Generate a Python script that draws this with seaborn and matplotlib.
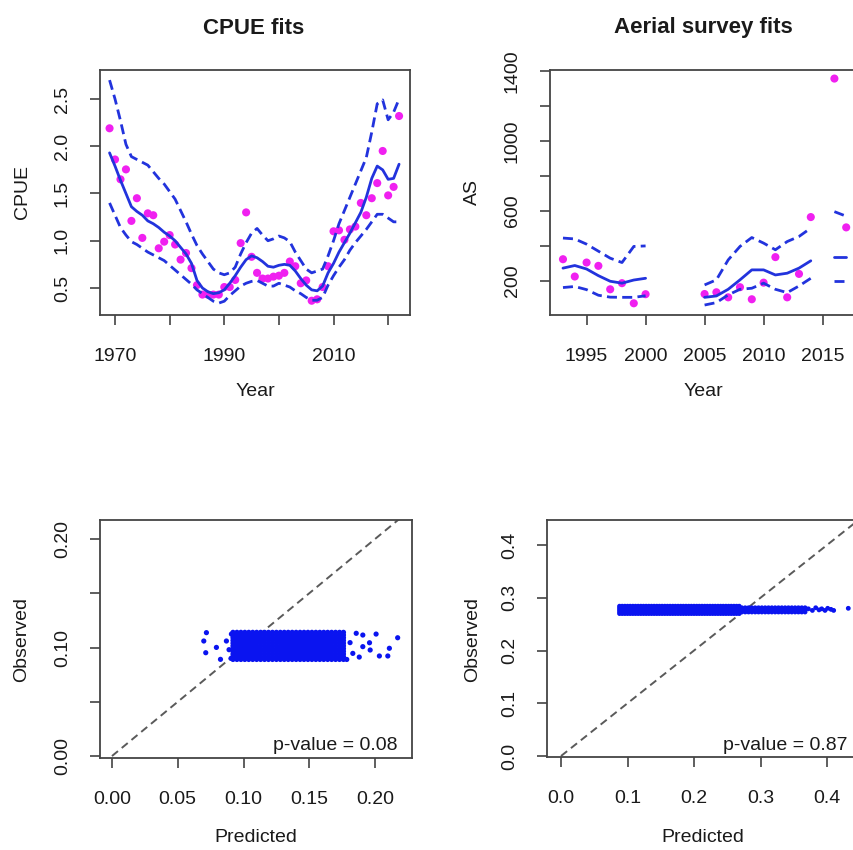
import itertools
import numpy as np
import pandas as pd
import matplotlib
matplotlib.use("Agg")
import matplotlib.pyplot as plt
import seaborn as sns

W, H, DPI = 854, 850, 100

# ---------------- data ----------------
cpue_years = list(range(1969, 2023))
cpue_obs = [2.19, 1.86, 1.65, 1.755, 1.21, 1.45, 1.03, 1.29, 1.27, 0.92,
            0.99, 1.06, 0.96, 0.80, 0.87, 0.71, 0.53, 0.43, 0.43, 0.43,
            0.43, 0.51, 0.51, 0.585, 0.975, 1.30, 0.83, 0.66, 0.60, 0.60,
            0.62, 0.63, 0.66, 0.78, 0.73, 0.55, 0.58, 0.365, 0.38, 0.51,
            0.73, 1.10, 1.11, 1.01, 1.12, 1.15, 1.40, 1.27, 1.45, 1.61,
            1.95, 1.48, 1.57, 2.32]
cpue_fit = [1.93, 1.79, 1.64, 1.50, 1.36, 1.31, 1.27, 1.21, 1.18, 1.14,
            1.09, 1.05, 1.00, 0.93, 0.86, 0.76, 0.58, 0.50, 0.46, 0.44,
            0.45, 0.48, 0.55, 0.63, 0.72, 0.80, 0.84, 0.82, 0.78, 0.73,
            0.72, 0.74, 0.75, 0.74, 0.68, 0.60, 0.53, 0.48, 0.47, 0.52,
            0.66, 0.76, 0.88, 0.98, 1.08, 1.19, 1.30, 1.46, 1.66, 1.79,
            1.75, 1.65, 1.66, 1.81]
cpue_upper = [2.70, 2.50, 2.27, 2.02, 1.89, 1.86, 1.83, 1.80, 1.73, 1.66,
              1.60, 1.52, 1.44, 1.32, 1.20, 1.07, 0.95, 0.86, 0.78, 0.70,
              0.66, 0.64, 0.66, 0.72, 0.86, 0.98, 1.08, 1.13, 1.06, 1.00,
              1.02, 1.05, 1.03, 0.99, 0.88, 0.79, 0.70, 0.66, 0.68, 0.70,
              0.84, 1.00, 1.18, 1.32, 1.46, 1.60, 1.74, 1.88, 2.15, 2.45,
              2.49, 2.28, 2.36, 2.50]
cpue_lower = [1.40, 1.27, 1.14, 1.06, 0.99, 0.96, 0.92, 0.88, 0.85, 0.82,
              0.79, 0.74, 0.69, 0.64, 0.59, 0.54, 0.48, 0.44, 0.40, 0.36,
              0.34, 0.36, 0.42, 0.47, 0.52, 0.55, 0.57, 0.58, 0.55, 0.52,
              0.52, 0.55, 0.53, 0.51, 0.47, 0.44, 0.40, 0.37, 0.37, 0.40,
              0.53, 0.63, 0.72, 0.80, 0.90, 0.98, 1.05, 1.12, 1.20, 1.28,
              1.28, 1.24, 1.20, 1.20]

as_years = [1993, 1994, 1995, 1996, 1997, 1998, 1999, 2000,
            2005, 2006, 2007, 2008, 2009, 2010, 2011, 2012, 2013, 2014,
            2016, 2017]
as_segment = [1, 1, 1, 1, 1, 1, 1, 1,
              2, 2, 2, 2, 2, 2, 2, 2, 2, 2,
              3, 3]
as_obs = [324, 225, 305, 286, 152, 187, 72, 124,
          125, 135, 106, 164, 95, 190, 336, 106, 240, 565,
          1357, 506]
as_fit = [273, 288, 268, 230, 198, 187, 205, 215,
          106, 114, 152, 206, 263, 263, 234, 244, 273, 315,
          339, 339]
as_upper = [445, 440, 410, 370, 330, 305, 397, 400,
            177, 206, 320, 397, 448, 416, 378, 425, 454, 502,
            596, 570]
as_lower = [162, 168, 150, 118, 107, 106, 106, 115,
            62, 76, 120, 152, 158, 187, 152, 133, 171, 215,
            202, 202]

# posterior predictive check, CPUE: dense core extents + scattered edge points
ppc1_core_x = [0.092, 0.095, 0.098, 0.101, 0.104, 0.107, 0.110, 0.113, 0.116,
               0.119, 0.122, 0.125, 0.128, 0.131, 0.134, 0.137, 0.140, 0.143,
               0.146, 0.149, 0.152, 0.155, 0.158, 0.161, 0.164, 0.167, 0.170,
               0.173, 0.176]
ppc1_core_y = [0.089, 0.0915, 0.094, 0.0965, 0.099, 0.1015, 0.104, 0.1065,
               0.109, 0.1115, 0.114]
ppc1_edge_x = [0.0718, 0.0698, 0.0713, 0.0794, 0.0825, 0.0908, 0.1857, 0.1907,
               0.1958, 0.2008, 0.1963, 0.2033, 0.2097, 0.2109, 0.2172, 0.1831,
               0.1880, 0.1810, 0.1785, 0.1907, 0.0890, 0.0905, 0.0932, 0.0870]
ppc1_edge_y = [0.1137, 0.1060, 0.0952, 0.1001, 0.0891, 0.1124, 0.1131, 0.1115,
               0.1044, 0.1124, 0.0977, 0.0922, 0.0922, 0.0993, 0.1090, 0.0946,
               0.0912, 0.1045, 0.0890, 0.1008, 0.0980, 0.0900, 0.1032, 0.1060]

# posterior predictive check, aerial survey
ppc2_core_x = [0.088, 0.092, 0.096, 0.100, 0.104, 0.108, 0.112, 0.116, 0.120,
               0.124, 0.128, 0.132, 0.136, 0.140, 0.144, 0.148, 0.152, 0.156,
               0.160, 0.164, 0.168, 0.172, 0.176, 0.180, 0.184, 0.188, 0.192,
               0.196, 0.200, 0.204, 0.208, 0.212, 0.216, 0.220, 0.224, 0.228,
               0.232, 0.236, 0.240, 0.244, 0.248, 0.252, 0.256, 0.260, 0.264,
               0.268]
ppc2_core_y = [0.270, 0.2735, 0.277, 0.2805, 0.284]
ppc2_tail_x = [0.272, 0.277, 0.282, 0.287, 0.292, 0.297, 0.302, 0.307, 0.312,
               0.317, 0.322, 0.327, 0.332, 0.337, 0.342, 0.347, 0.352, 0.357,
               0.362, 0.367]
ppc2_tail_y = [0.273, 0.277, 0.281]
ppc2_edge_x = [0.372, 0.378, 0.383, 0.388, 0.392, 0.397, 0.401, 0.406, 0.410, 0.432]
ppc2_edge_y = [0.279, 0.276, 0.281, 0.277, 0.279, 0.276, 0.280, 0.278, 0.276, 0.280]

one_to_one = [0.0, 0.6]
pvalues = ["p-value = 0.08", "p-value = 0.87"]

# ---------------- style ----------------
sns.set_style("ticks")
FONT = ['Liberation Sans Narrow', 'Liberation Sans', 'DejaVu Sans']
plt.rcParams['font.family'] = FONT
TXT = '#1a1a1a'
MAG = '#f020f0'
BLUE = '#2233dd'
PTBLUE = '#0a14f0'
TICK_FS = 14
LAB_FS = 14
TITLE_FS = 16

fig = plt.figure(figsize=(W / DPI, H / DPI), dpi=DPI)


def axes_px(l, t, r, b):
    return fig.add_axes([l / W, 1 - b / H, (r - l) / W, (b - t) / H])


def style_axes(ax, xt, xl, yt, yl):
    ax.set_xticks(xt)
    ax.set_xticklabels(xl)
    ax.set_yticks(yt)
    ax.set_yticklabels(yl, rotation=90, va='center')
    ax.tick_params(axis='both', direction='out', length=7, width=1.1,
                   color='#333333', labelsize=TICK_FS, labelcolor=TXT)
    ax.tick_params(axis='x', pad=17)
    ax.tick_params(axis='y', pad=14)
    for s in ax.spines.values():
        s.set_visible(True)
        s.set_color('#444444')
        s.set_linewidth(1.3)
    ax.set_xlabel('')
    ax.set_ylabel('')


def ftext(x, y, s, **kw):
    kw.setdefault('color', TXT)
    fig.text(x / W, 1 - y / H, s, **kw)


DASH = (0, (3.6, 1.9))
LW = 2.0

# ---- CPUE fits ----
ax1 = axes_px(100, 70, 410, 315)
df_c = pd.DataFrame({'Year': cpue_years, 'obs': cpue_obs, 'fit': cpue_fit,
                     'lo': cpue_lower, 'hi': cpue_upper})
sns.scatterplot(data=df_c, x='Year', y='obs', color=MAG, s=34,
                edgecolor='none', ax=ax1, zorder=2)
sns.lineplot(data=df_c, x='Year', y='fit', color=BLUE, lw=LW,
             estimator=None, ax=ax1, zorder=3)
for col in ['lo', 'hi']:
    sns.lineplot(data=df_c, x='Year', y=col, color=BLUE, lw=LW,
                 linestyle=DASH, estimator=None, ax=ax1, zorder=3)
ax1.set_xlim(1967.25, 2024.0)
ax1.set_ylim(0.214, 2.807)
style_axes(ax1, [1970, 1980, 1990, 2000, 2010, 2020],
           ['1970', '', '1990', '', '2010', ''],
           [0.5, 1.0, 1.5, 2.0, 2.5], ['0.5', '1.0', '1.5', '2.0', '2.5'])

# ---- Aerial survey fits ----
ax2 = axes_px(550, 70, 858, 315)
df_a = pd.DataFrame({'Year': as_years, 'seg': as_segment, 'obs': as_obs,
                     'fit': as_fit, 'lo': as_lower, 'hi': as_upper})
sns.scatterplot(data=df_a, x='Year', y='obs', color=MAG, s=34,
                edgecolor='none', ax=ax2, zorder=2)
sns.lineplot(data=df_a, x='Year', y='fit', units='seg', color=BLUE, lw=LW,
             estimator=None, ax=ax2, zorder=3)
for col in ['lo', 'hi']:
    sns.lineplot(data=df_a, x='Year', y=col, units='seg', color=BLUE, lw=LW,
                 linestyle=DASH, estimator=None, ax=ax2, zorder=3)
ax2.set_xlim(1991.9, 2018.0)
ax2.set_ylim(5, 1406)
style_axes(ax2, [1995, 2000, 2005, 2010, 2015],
           ['1995', '2000', '2005', '2010', '2015'],
           [200, 400, 600, 800, 1000, 1200, 1400],
           ['200', '', '600', '', '1000', '', '1400'])

# ---- PPC CPUE ----
ax3 = axes_px(100, 520, 412, 758)
pts1 = list(itertools.product(ppc1_core_x, ppc1_core_y)) + list(zip(ppc1_edge_x, ppc1_edge_y))
df_p1 = pd.DataFrame(pts1, columns=['Predicted', 'Observed'])
sns.lineplot(x=one_to_one, y=one_to_one, color='#5a5a5a', lw=1.4,
             linestyle=(0, (4, 2.5)), estimator=None, ax=ax3, zorder=1)
sns.scatterplot(data=df_p1, x='Predicted', y='Observed', color=PTBLUE, s=14,
                edgecolor='none', ax=ax3, zorder=2)
ax3.set_xlim(-0.0091, 0.2281)
ax3.set_ylim(-0.0018, 0.2175)
style_axes(ax3, [0, 0.05, 0.10, 0.15, 0.20],
           ['0.00', '0.05', '0.10', '0.15', '0.20'],
           [0, 0.05, 0.10, 0.15, 0.20], ['0.00', '', '0.10', '', '0.20'])

# ---- PPC aerial survey ----
ax4 = axes_px(547, 520, 858, 757)
pts2 = (list(itertools.product(ppc2_core_x, ppc2_core_y))
        + list(itertools.product(ppc2_tail_x, ppc2_tail_y))
        + list(zip(ppc2_edge_x, ppc2_edge_y)))
df_p2 = pd.DataFrame(pts2, columns=['Predicted', 'Observed'])
sns.lineplot(x=one_to_one, y=one_to_one, color='#5a5a5a', lw=1.4,
             linestyle=(0, (4, 2.5)), estimator=None, ax=ax4, zorder=1)
sns.scatterplot(data=df_p2, x='Predicted', y='Observed', color=PTBLUE, s=12,
                edgecolor='none', ax=ax4, zorder=2)
ax4.set_xlim(-0.0211, 0.4466)
ax4.set_ylim(-0.0019, 0.4474)
style_axes(ax4, [0, 0.1, 0.2, 0.3, 0.4], ['0.0', '0.1', '0.2', '0.3', '0.4'],
           [0, 0.1, 0.2, 0.3, 0.4], ['0.0', '0.1', '0.2', '0.3', '0.4'])

# ---- texts ----
ftext(254, 28, 'CPUE fits', ha='center', va='center', fontsize=TITLE_FS, fontweight='bold')
ftext(703, 28, 'Aerial survey fits', ha='center', va='center', fontsize=TITLE_FS, fontweight='bold')
ftext(255, 392, 'Year', ha='center', va='center', fontsize=LAB_FS)
ftext(703, 392, 'Year', ha='center', va='center', fontsize=LAB_FS)
ftext(23, 192, 'CPUE', ha='center', va='center', rotation=90, fontsize=LAB_FS)
ftext(472, 192, 'AS', ha='center', va='center', rotation=90, fontsize=LAB_FS)
ftext(22, 639, 'Observed', ha='center', va='center', rotation=90, fontsize=LAB_FS)
ftext(473, 639, 'Observed', ha='center', va='center', rotation=90, fontsize=LAB_FS)
ftext(256, 838, 'Predicted', ha='center', va='center', fontsize=LAB_FS)
ftext(703, 838, 'Predicted', ha='center', va='center', fontsize=LAB_FS)
ftext(398, 750, pvalues[0], ha='right', va='baseline', fontsize=LAB_FS)
ftext(848, 750, pvalues[1], ha='right', va='baseline', fontsize=LAB_FS)

fig.savefig('out.png', dpi=DPI)
